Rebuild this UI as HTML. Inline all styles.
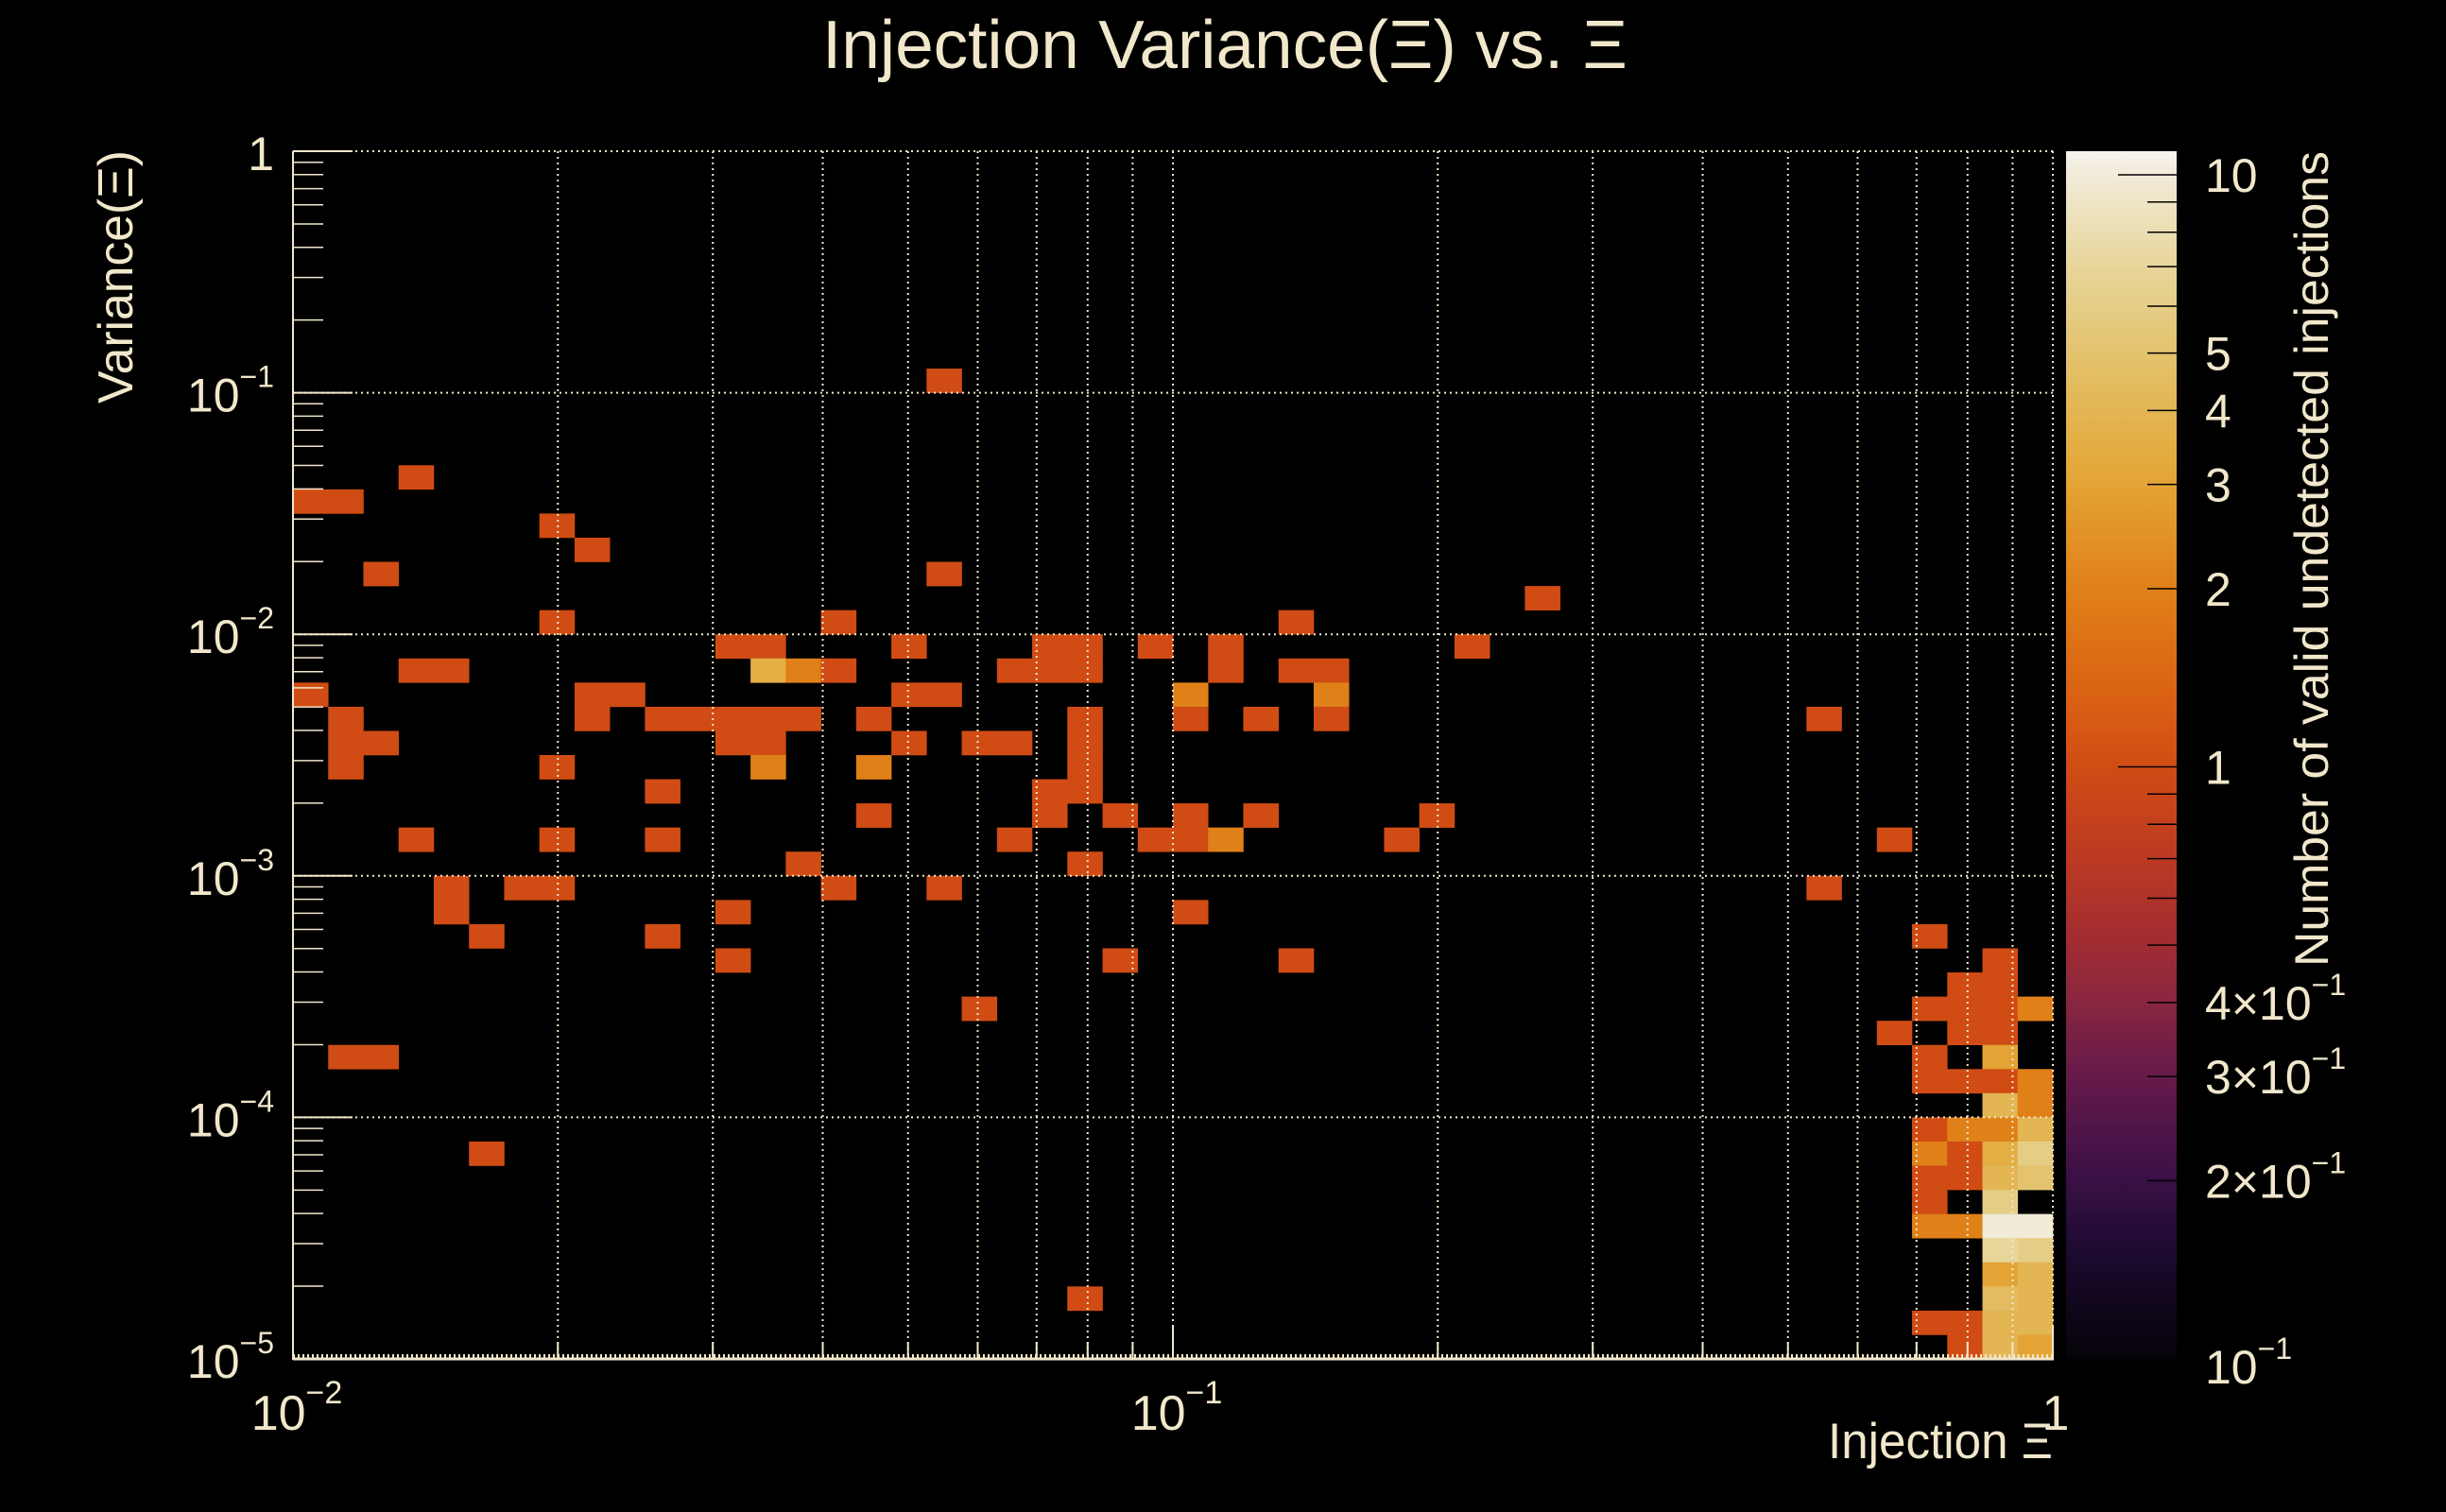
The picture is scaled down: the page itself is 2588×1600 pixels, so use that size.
<!DOCTYPE html>
<html><head><meta charset="utf-8"><style>
html,body{margin:0;padding:0;background:#000;}
svg{display:block;}
text{font-family:"Liberation Sans",sans-serif;fill:#f1e7cb;}
</style></head><body>
<svg id="chart" width="2588" height="1600" viewBox="0 0 2588 1600" xmlns="http://www.w3.org/2000/svg">
<rect x="0" y="0" width="2588" height="1600" fill="#000"/>
<text x="1296" y="72" font-size="72" text-anchor="middle" textLength="852" lengthAdjust="spacingAndGlyphs">Injection Variance(Ξ) vs. Ξ</text>
<g id="cells"></g>
<g id="grid"></g>
<g id="axes"></g>
<defs><linearGradient id="cbgrad" x1="0" y1="1" x2="0" y2="0"></linearGradient></defs>
<rect x="2186" y="160" width="117" height="1278" fill="url(#cbgrad)"/>
<g id="cbaxis"></g>
<text x="140" y="293" font-size="52" text-anchor="middle" transform="rotate(-90 140 293)" textLength="268" lengthAdjust="spacingAndGlyphs">Variance(Ξ)</text>
<text x="2172" y="1543" font-size="53" text-anchor="end" textLength="238" lengthAdjust="spacingAndGlyphs">Injection Ξ</text>
<text x="2463" y="160" font-size="50" text-anchor="end" transform="rotate(-90 2463 160)" textLength="863" lengthAdjust="spacingAndGlyphs">Number of valid undetected injections</text>
</svg>
<script>
// histogram binning (axis definition)
const nBinsX = 50, logXMin = -2, logXMax = 0;
const nBinsY = 50, logYMin = -5, logYMax = 0;
const logZMin = -1, logZMax = 1.04;
// bin contents: x-bin index, y-bin index, count
const cellIx = [18, 3, 0,1, 7, 8, 2,18, 35, 7,15,28,
 12,13,17,21,22,24,26,33,
 3,4,13,14,15,20,21,22,26,28,29,
 0,8,9,17,18,25,29,
 1,8,10,11,12,13,14,16,22,25,27,29,43,
 1,2,12,13,17,19,20,22,
 1,7,13,16,22,
 10,21,22,
 16,21,23,25,27,32,
 3,7,10,20,24,25,26,31,45,
 14,22,
 4,6,7,15,18,43,
 4,12,25,
 5,10,46,
 12,23,28,48,
 47,48,
 19,46,47,48,49,
 45,47,48,
 1,2,46,48,
 46,47,48,49,
 48,49,
 46,47,48,49,
 5,46,47,48,49,
 46,47,48,49,
 46,48,
 46,47,48,49,
 48,49,
 48,49,
 22,48,49,
 46,47,48,49,
 47,48,49];
const cellIy = [40, 36, 35,35, 34, 33, 32,32, 31, 30,30,30,
 29,29,29,29,29,29,29,29,
 28,28,28,28,28,28,28,28,28,28,28,
 27,27,27,27,27,27,27,
 26,26,26,26,26,26,26,26,26,26,26,26,26,
 25,25,25,25,25,25,25,25,
 24,24,24,24,24,
 23,23,23,
 22,22,22,22,22,22,
 21,21,21,21,21,21,21,21,21,
 20,20,
 19,19,19,19,19,19,
 18,18,18,
 17,17,17,
 16,16,16,16,
 15,15,
 14,14,14,14,14,
 13,13,13,
 12,12,12,12,
 11,11,11,11,
 10,10,
 9,9,9,9,
 8,8,8,8,8,
 7,7,7,7,
 6,6,
 5,5,5,5,
 4,4,
 3,3,
 2,2,2,
 1,1,1,1,
 0,0,0];
const cellN = [1, 1, 1,1, 1, 1, 1,1, 1, 1,1,1,
 1,1,1,1,1,1,1,1,
 1,1,3.5,2,1,1,1,1,1,1,1,
 1,1,1,1,1,2,2,
 1,1,1,1,1,1,1,1,1,1,1,1,1,
 1,1,1,1,1,1,1,1,
 1,1,2,2,1,
 1,1,1,
 1,1,1,1,1,1,
 1,1,1,1,1,1,2,1,1,
 1,1,
 1,1,1,1,1,1,
 1,1,1,
 1,1,1,
 1,1,1,1,
 1,1,
 1,1,1,1,2,
 1,1,1,
 1,1,1,3,
 1,1,1,2,
 4,2,
 1,2,2,4,
 1,2,1,3.5,6,
 1,1,4,5,
 1,6,
 2,2,10,10,
 7,6,
 3,4,
 1,4.5,4,
 1,1,4,4,
 1,4,3];
// colormap stops: log10(count), colour
const cmapLog = [-1, -0.82, -0.7, -0.52, -0.4, -0.3, -0.15, 0, 0.11, 0.3, 0.48, 0.6, 0.7, 0.85, 1, 1.04];
const cmapCol = ["#060308","#1c0a30","#3a1046","#661a4a","#882640","#a02c32","#bd3a22","#d04c14","#da6014","#e08018","#e4a535","#e3b552","#e3c36e","#e8d69c","#f1ebd8","#f6f4f0"];
const colTicks = [0.2,0.3,0.4,0.5,0.6,0.7,0.8,0.9,1,2,3,4,5,6,7,8,9,10];
const colLabels = [["2","-1"],["3","-1"],["4","-1"],null,null,null,null,null,["1",null],["2",null],["3",null],["4",null],["5",null],null,null,null,null,["10",null]];
const yDecades = [-5,-4,-3,-2,-1,0];
const xDecades = [-2,-1,0];

const X0=310, X1=2172, Y0=160, Y1=1438;
const NS="http://www.w3.org/2000/svg";
const CREAM="#f1e7cb";
const sx = l => X0 + (l - logXMin)/(logXMax - logXMin)*(X1-X0);
const sy = l => Y1 - (l - logYMin)/(logYMax - logYMin)*(Y1-Y0);
const sz = l => Y1 - (l - logZMin)/(logZMax - logZMin)*(Y1-Y0);
function hex(c){return [parseInt(c.substr(1,2),16),parseInt(c.substr(3,2),16),parseInt(c.substr(5,2),16)];}
function cmap(l){
  if(l<=cmapLog[0]) return cmapCol[0];
  for(let i=1;i<cmapLog.length;i++){
    if(l<=cmapLog[i]){
      const t=(l-cmapLog[i-1])/(cmapLog[i]-cmapLog[i-1]);
      const a=hex(cmapCol[i-1]), b=hex(cmapCol[i]);
      return "rgb("+a.map((v,k)=>Math.round(v+(b[k]-v)*t)).join(",")+")";
    }
  }
  return cmapCol[cmapCol.length-1];
}
function mk(tag, attrs, parent){
  const e=document.createElementNS(NS,tag);
  for(const k in attrs) e.setAttribute(k, attrs[k]);
  parent.appendChild(e); return e;
}
// cells
const gc=document.getElementById("cells");
const dx=(logXMax-logXMin)/nBinsX, dy=(logYMax-logYMin)/nBinsY;
for(let i=0;i<cellN.length;i++){
  const lx=logXMin+cellIx[i]*dx, ly=logYMin+cellIy[i]*dy;
  const x=sx(lx), x2=sx(lx+dx), y=sy(ly+dy), y2=sy(ly);
  const r=mk("rect",{x:x.toFixed(2),y:y.toFixed(2),width:(x2-x+0.3).toFixed(2),height:(y2-y+0.3).toFixed(2),fill:cmap(Math.log10(cellN[i]))},gc);
  
  
}
// grid
const gg=document.getElementById("grid");
const gridStyle={stroke:CREAM,"stroke-width":2,"stroke-dasharray":"2 4"};
for(let d=0; d<xDecades.length; d++){
  const dec=xDecades[d];
  const mults = dec===0?[1]:[1,2,3,4,5,6,7,8,9];
  for(const m of mults){
    const l=dec+Math.log10(m);
    if(l<=logXMin) continue;
    const x=sx(l);
    const ln=mk("line",Object.assign({x1:x,y1:Y0,x2:x,y2:Y1},gridStyle),gg);
    
    
  }
}
for(const dec of yDecades){
  if(dec===logYMin) continue;
  const y=sy(dec);
  const ln=mk("line",Object.assign({x1:X0,y1:y,x2:X1,y2:y},gridStyle),gg);
  
  
}
// axes
const ga=document.getElementById("axes");
const ax1=mk("line",{x1:X0,y1:Y0,x2:X0,y2:Y1+1,stroke:CREAM,"stroke-width":2},ga);


const ax2=mk("line",{x1:X0,y1:Y1,x2:X1+1,y2:Y1,stroke:CREAM,"stroke-width":3},ga);


const ax3=mk("line",{x1:X0,y1:Y1-3,x2:X1,y2:Y1-3,stroke:CREAM,"stroke-width":4,"stroke-dasharray":"2 3"},ga);


// y ticks and labels
for(const dec of yDecades){
  const y=sy(dec);
  const t=mk("line",{x1:X0,y1:y,x2:X0+63,y2:y,stroke:CREAM,"stroke-width":2},ga);
  
  
  if(dec<0){
    for(let m=2;m<=9;m++){
      const ym=sy(dec+Math.log10(m));
      const tm=mk("line",{x1:X0,y1:ym,x2:X0+32,y2:ym,stroke:CREAM,"stroke-width":1.5},ga);
      
      
    }
  }
  const lab=mk("text",{x:290,y:y+20,"font-size":50,"text-anchor":"end"},ga);
  
  
  if(dec===0){ lab.textContent="1"; }
  else {
    const a=mk("tspan",{},lab); a.textContent="10";
    const b=mk("tspan",{"font-size":32,dy:-26},lab); b.textContent="\u2212"+(-dec);
  }
}
// x ticks and labels
for(const dec of xDecades){
  const mults = dec===0?[1]:[1,2,3,4,5,6,7,8,9];
  for(const m of mults){
    const x=sx(dec+Math.log10(m));
    const len = m===1?36:18;
    const t=mk("line",{x1:x,y1:Y1,x2:x,y2:Y1-len,stroke:CREAM,"stroke-width":2},ga);
    
    
  }
  const x=sx(dec);
  const lab=mk("text",{x:dec===0?x+3:x+4,y:1513,"font-size":52,"text-anchor":"middle"},ga);
  
  
  if(dec===0){ lab.textContent="1"; }
  else {
    const a=mk("tspan",{},lab); a.textContent="10";
    const b=mk("tspan",{"font-size":34,dy:-28},lab); b.textContent="\u2212"+(-dec);
  }
}
// colorbar gradient
const grad=document.getElementById("cbgrad");
for(let k=0;k<=60;k++){
  const l=logZMin+(logZMax-logZMin)*k/60;
  mk("stop",{offset:(k/60).toFixed(4),"stop-color":cmap(l)},grad);
}
// colorbar ticks/labels
const gb=document.getElementById("cbaxis");
for(let i=0;i<colTicks.length;i++){
  const v=colTicks[i], y=sz(Math.log10(v));
  const major=(v===1||v===10);
  const t=mk("line",{x1:2303,y1:y,x2:2303-(major?62:31),y2:y,stroke:"#000","stroke-width":1.5},gb);
  
  
  const lb=colLabels[i];
  if(lb){
    const lab=mk("text",{x:2333,y:y+18,"font-size":50},gb);
    
    
    const a=mk("tspan",{},lab); a.textContent=lb[0];
    if(lb[1]){
      const c=mk("tspan",{},lab); c.textContent="\u00d710";
      const b=mk("tspan",{"font-size":32,dy:-26},lab); b.textContent="\u2212"+lb[1].slice(1);
    }
  }
}
const yb=sz(-1);
const lab0=mk("text",{x:2333,y:yb+26,"font-size":50},gb);


const a0=mk("tspan",{},lab0); a0.textContent="10";
const b0=mk("tspan",{"font-size":32,dy:-26},lab0); b0.textContent="\u22121";
</script>
</body></html>
